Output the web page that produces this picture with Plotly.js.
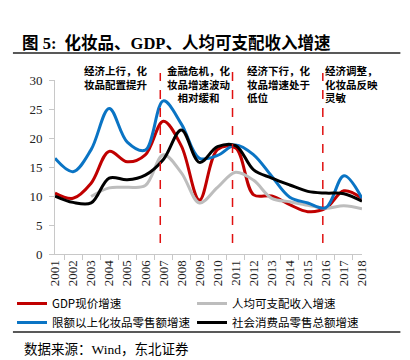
<!DOCTYPE html>
<html><head><meta charset="utf-8">
<script src="https://cdn.plot.ly/plotly-3.0.1.min.js"></script>
<style>html,body{margin:0;padding:0;background:#fff}#chart{width:410px;height:360px}</style>
</head><body><div id="chart"></div>
<script>
const years = ['2001','2002','2003','2004','2005','2006','2007','2008','2009','2010','2011','2012','2013','2014','2015','2016','2017','2018'];
const gdpGrowth = [10.5, 9.6, 12.2, 17.7, 15.9, 17.1, 22.9, 18.6, 9.3, 18.0, 18.3, 10.2, 10.0, 8.5, 7.3, 7.9, 10.9, 9.6];
const incomeGrowth = [null, null, 9.9, 11.4, 11.5, 11.8, 17.1, 14.0, 8.8, 11.5, 14.1, 12.7, 9.6, 9.0, 8.4, 7.9, 8.3, 7.8];
const cosmeticsGrowth = [16.5, 14.2, 18.0, 25.1, 19.3, 17.9, 26.4, 22.4, 16.5, 17.0, 18.8, 17.1, 13.4, 9.8, 8.8, 8.0, 13.5, 9.6];
const retailGrowth = [10.0, 8.9, 8.8, 13.1, 12.8, 13.6, 16.3, 21.4, 15.8, 18.5, 18.7, 14.5, 13.1, 11.9, 10.8, 10.5, 10.4, 9.1];
const seriesNames = ['GDP现价增速', '人均可支配收入增速', '限额以上化妆品零售额增速', '社会消费品零售总额增速'];
const phaseYears = ['2007', '2011', '2016'];
const phaseNotes = ['经济上行，化<br>妆品配置提升', '金融危机，化<br>妆品增速波动<br>相对缓和', '经济下行，化<br>妆品增速处于<br>低位', '经济调整，<br>化妆品反映<br>灵敏'];
const yTicks = [0, 5, 10, 15, 20, 25, 30];

const cjk = 'Noto Sans CJK SC';
const serifCjk = 'Liberation Serif, Noto Sans CJK SC';
const colors = ['#c00000', '#bdbdbd', '#0a74c4', '#000000'];
const seriesData = [gdpGrowth, incomeGrowth, cosmeticsGrowth, retailGrowth];

const traces = seriesData.map((vals, i) => ({
  type: 'scatter', mode: 'lines', x: years, y: vals, name: seriesNames[i],
  line: {color: colors[i], width: 3, shape: 'spline', smoothing: 1},
  connectgaps: false, hoverinfo: 'skip'
}));

const phaseTops = [1.04, 1.087, 1.04];
const shapes = phaseYears.map((yr, i) => ({
  type: 'line', xref: 'x', yref: 'paper',
  x0: years.indexOf(yr) - 0.17, x1: years.indexOf(yr) - 0.17,
  y0: 0.063, y1: phaseTops[i],
  line: {color: '#e01010', width: 1.5, dash: 'dash'}
}));
shapes.push({type: 'line', xref: 'paper', yref: 'paper', x0: -0.137, x1: 1.125, y0: 1.155, y1: 1.155, line: {color: '#222', width: 1.5}});
shapes.push({type: 'line', xref: 'paper', yref: 'paper', x0: -0.137, x1: 1.125, y0: -0.448, y1: -0.448, line: {color: '#222', width: 1.5}});

const notePos = [[0.088, 'left'], [0.470, 'center'], [0.6195, 'left'], [0.873, 'left']];
const annotations = phaseNotes.map((t, i) => ({
  text: '<b>' + t + '</b>', xref: 'paper', yref: 'paper',
  x: notePos[i][0], xanchor: notePos[i][1], align: notePos[i][1],
  y: 1.111, yanchor: 'top', showarrow: false,
  font: {family: cjk, size: 10.5, color: '#000'}
}));
annotations.push({
  text: '数据来源：Wind，东北证券', xref: 'paper', yref: 'paper',
  x: -0.108, xanchor: 'left', y: -0.546, yanchor: 'middle', showarrow: false,
  font: {family: serifCjk, size: 13.5, color: '#000'}
});

const layout = {
  width: 410, height: 360,
  margin: {l: 55, r: 48, t: 80, b: 106},
  paper_bgcolor: '#fff', plot_bgcolor: '#fff',
  title: {
    text: '<b>图 5:  化妆品、GDP、人均可支配收入增速</b>',
    xref: 'container', yref: 'container', x: 22 / 410, xanchor: 'left',
    y: 1 - 43 / 360, yanchor: 'middle',
    font: {family: serifCjk, size: 16.5, color: '#000'}
  },
  xaxis: {
    type: 'category', tickangle: -90, showgrid: false, zeroline: false,
    showline: true, linecolor: '#c8c8c8', linewidth: 1,
    ticks: 'outside', tickson: 'boundaries', ticklen: 5, tickcolor: '#c8c8c8',
    tickfont: {family: 'Liberation Serif', size: 13, color: '#222'}
  },
  yaxis: {
    range: [0, 30], tickvals: yTicks, showgrid: false, zeroline: false,
    showline: true, linecolor: '#c8c8c8', linewidth: 1,
    ticks: 'outside', ticklen: 5, tickcolor: '#c8c8c8', ticklabelstandoff: 4,
    tickfont: {family: 'Liberation Serif', size: 13, color: '#222'}
  },
  showlegend: true,
  legend: {
    orientation: 'h', xref: 'paper', yref: 'paper', x: -0.14, xanchor: 'left',
    y: -0.201, yanchor: 'top', entrywidth: 135, itemwidth: 30,
    font: {family: cjk, size: 11.5, color: '#000'}, bgcolor: 'rgba(0,0,0,0)'
  },
  shapes: shapes, annotations: annotations
};

Plotly.newPlot('chart', traces, layout, {staticPlot: true, displayModeBar: false});
</script></body></html>
